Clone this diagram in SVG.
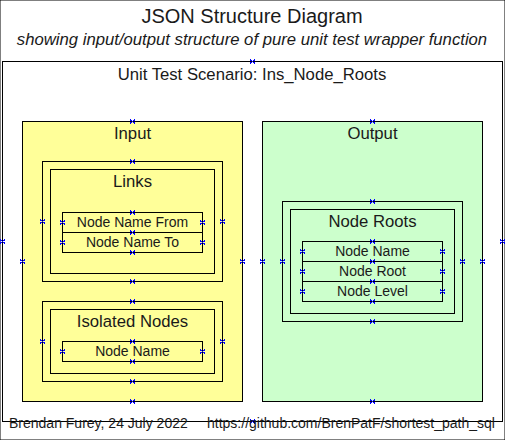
<svg xmlns="http://www.w3.org/2000/svg" xmlns:xlink="http://www.w3.org/1999/xlink" width="505" height="440" viewBox="0 0 505 440">
<style>
text{font-family:"Liberation Sans",Arial,sans-serif;fill:#1a1a1a;text-anchor:middle}
.t{font-size:20px}
.st{font-size:16.7px;font-style:italic}
.h{font-size:16.7px}
.f{font-size:14px}
.foot{font-size:14px;text-anchor:start}
rect{stroke:#000;stroke-width:1}
.scen{fill:#fff}
.in{fill:#ffff99}
.out{fill:#ccffcc}
.box{fill:none}
</style>
<defs>
<path id="m" d="M-2.5,-2L2.5,2M-2.5,2L2.5,-2" stroke="#0000ff" stroke-width="1" fill="none" shape-rendering="crispEdges"/>
</defs>
<rect x="0" y="0" width="505" height="440" fill="#fff" stroke="none"/>
<text class="t" x="252" y="23">JSON Structure Diagram</text>
<text class="st" x="252" y="45">showing input/output structure of pure unit test wrapper function</text>

<g id="scenario">
<rect class="scen" x="2.5" y="61.5" width="500" height="360"/>
<text class="h" x="252" y="80">Unit Test Scenario: Ins_Node_Roots</text>
</g>

<g id="input">
<rect class="in" x="22.5" y="121.5" width="220" height="280"/>
<text class="h" x="132.5" y="139">Input</text>
</g>

<g id="links">
<rect class="box" x="42.5" y="161.5" width="180" height="120"/>
<rect class="box" x="50.5" y="169.5" width="164" height="104"/>
<text class="h" x="132.5" y="187">Links</text>
</g>
<g id="links-node-name-from">
<rect class="box" x="62.5" y="212.5" width="140" height="20"/>
<text class="f" x="132.5" y="227">Node Name From</text>
</g>
<g id="links-node-name-to">
<rect class="box" x="62.5" y="232.5" width="140" height="20"/>
<text class="f" x="132.5" y="247">Node Name To</text>
</g>

<g id="isolated-nodes">
<rect class="box" x="42.5" y="301.5" width="180" height="80"/>
<rect class="box" x="50.5" y="309.5" width="164" height="64"/>
<text class="h" x="132.5" y="327">Isolated Nodes</text>
</g>
<g id="isolated-node-name">
<rect class="box" x="62.5" y="341.5" width="140" height="20"/>
<text class="f" x="132.5" y="356">Node Name</text>
</g>

<g id="output">
<rect class="out" x="262.5" y="121.5" width="220" height="280"/>
<text class="h" x="372.5" y="139">Output</text>
</g>

<g id="node-roots">
<rect class="box" x="282.5" y="201.5" width="180" height="120"/>
<rect class="box" x="290.5" y="209.5" width="164" height="104"/>
<text class="h" x="372.5" y="227">Node Roots</text>
</g>
<g id="roots-node-name">
<rect class="box" x="302.5" y="241.5" width="140" height="20"/>
<text class="f" x="372.5" y="256">Node Name</text>
</g>
<g id="roots-node-root">
<rect class="box" x="302.5" y="261.5" width="140" height="20"/>
<text class="f" x="372.5" y="276">Node Root</text>
</g>
<g id="roots-node-level">
<rect class="box" x="302.5" y="281.5" width="140" height="20"/>
<text class="f" x="372.5" y="296">Node Level</text>
</g>

<g id="connectors"></g>

<g id="ports">
<use xlink:href="#m" x="252.5" y="61.5"/>
<use xlink:href="#m" x="252.5" y="421.5"/>
<use xlink:href="#m" x="2.5" y="241.5"/>
<use xlink:href="#m" x="502.5" y="241.5"/>

<use xlink:href="#m" x="132.5" y="121.5"/>
<use xlink:href="#m" x="132.5" y="401.5"/>
<use xlink:href="#m" x="22.5" y="261.5"/>
<use xlink:href="#m" x="242.5" y="261.5"/>

<use xlink:href="#m" x="132.5" y="161.5"/>
<use xlink:href="#m" x="132.5" y="281.5"/>
<use xlink:href="#m" x="42.5" y="221.5"/>
<use xlink:href="#m" x="222.5" y="221.5"/>

<use xlink:href="#m" x="132.5" y="212.5"/>
<use xlink:href="#m" x="132.5" y="232.5"/>
<use xlink:href="#m" x="62.5" y="222.5"/>
<use xlink:href="#m" x="202.5" y="222.5"/>
<use xlink:href="#m" x="132.5" y="252.5"/>
<use xlink:href="#m" x="62.5" y="242.5"/>
<use xlink:href="#m" x="202.5" y="242.5"/>

<use xlink:href="#m" x="132.5" y="301.5"/>
<use xlink:href="#m" x="132.5" y="381.5"/>
<use xlink:href="#m" x="42.5" y="341.5"/>
<use xlink:href="#m" x="222.5" y="341.5"/>
<use xlink:href="#m" x="132.5" y="341.5"/>
<use xlink:href="#m" x="132.5" y="361.5"/>
<use xlink:href="#m" x="62.5" y="351.5"/>
<use xlink:href="#m" x="202.5" y="351.5"/>

<use xlink:href="#m" x="372.5" y="121.5"/>
<use xlink:href="#m" x="372.5" y="401.5"/>
<use xlink:href="#m" x="262.5" y="261.5"/>
<use xlink:href="#m" x="482.5" y="261.5"/>

<use xlink:href="#m" x="372.5" y="201.5"/>
<use xlink:href="#m" x="372.5" y="321.5"/>
<use xlink:href="#m" x="282.5" y="261.5"/>
<use xlink:href="#m" x="462.5" y="261.5"/>

<use xlink:href="#m" x="372.5" y="241.5"/>
<use xlink:href="#m" x="372.5" y="261.5"/>
<use xlink:href="#m" x="372.5" y="281.5"/>
<use xlink:href="#m" x="372.5" y="301.5"/>
<use xlink:href="#m" x="302.5" y="251.5"/>
<use xlink:href="#m" x="302.5" y="271.5"/>
<use xlink:href="#m" x="302.5" y="291.5"/>
<use xlink:href="#m" x="442.5" y="251.5"/>
<use xlink:href="#m" x="442.5" y="271.5"/>
<use xlink:href="#m" x="442.5" y="291.5"/>
</g>

<text class="foot" x="9" y="428">Brendan Furey, 24 July 2022</text>
<text class="foot" x="207" y="428">https://github.com/BrenPatF/shortest_path_sql</text>
</svg>
